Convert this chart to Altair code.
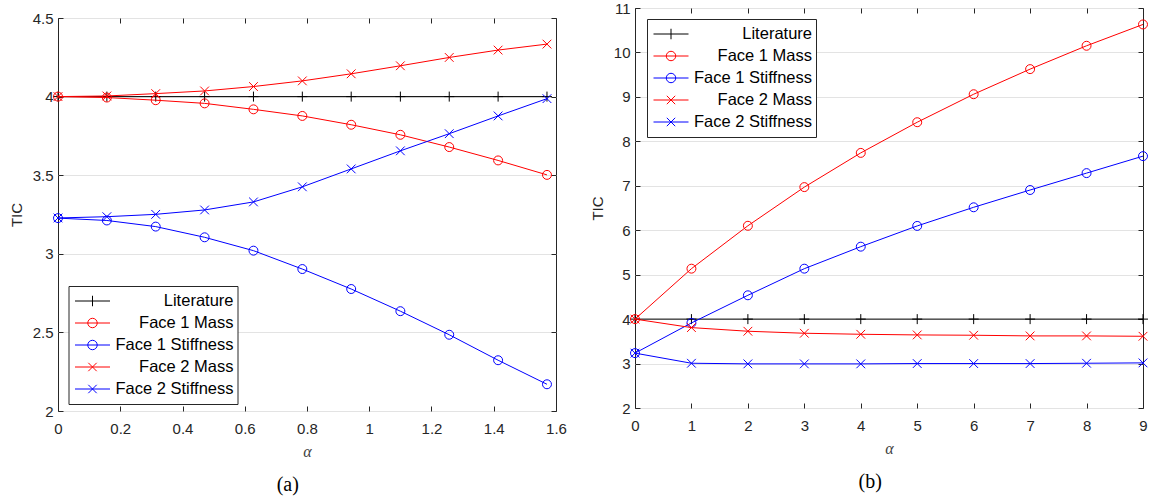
import altair as alt
import pandas as pd

SERIES = ["Literature", "Face 1 Mass", "Face 1 Stiffness", "Face 2 Mass", "Face 2 Stiffness"]
COLORS = ["#000000", "#ff0000", "#0000ff", "#ff0000", "#0000ff"]
MARKERS = ["plus", "circle", "circle", "cross", "cross"]

# ---- panel (a) ----
a_x = [0.0, 0.157, 0.314, 0.471, 0.628, 0.785, 0.942, 1.100, 1.257, 1.414, 1.571]
a_literature = [4.0, 4.0, 4.0, 4.0, 4.0, 4.0, 4.0, 4.0, 4.0, 4.0, 4.0]
a_face1_mass = [4.0, 3.994, 3.977, 3.957, 3.919, 3.877, 3.821, 3.757, 3.679, 3.594, 3.502]
a_face1_stiff = [3.227, 3.212, 3.173, 3.105, 3.020, 2.903, 2.776, 2.635, 2.485, 2.323, 2.170]
a_face2_mass = [4.0, 4.004, 4.019, 4.036, 4.064, 4.100, 4.145, 4.196, 4.249, 4.296, 4.334]
a_face2_stiff = [3.228, 3.236, 3.251, 3.279, 3.330, 3.426, 3.540, 3.655, 3.764, 3.877, 3.987]
a_xticks = [0, 0.2, 0.4, 0.6, 0.8, 1.0, 1.2, 1.4, 1.6]
a_yticks = [2, 2.5, 3, 3.5, 4, 4.5]

# ---- panel (b) ----
b_x = [0, 1, 2, 3, 4, 5, 6, 7, 8, 9]
b_literature = [4.0, 4.0, 4.0, 4.0, 4.0, 4.0, 4.0, 4.0, 4.0, 4.0]
b_face1_mass = [4.0, 5.135, 6.10, 6.97, 7.74, 8.43, 9.06, 9.625, 10.15, 10.63]
b_face1_stiff = [3.235, 3.914, 4.536, 5.135, 5.63, 6.097, 6.516, 6.905, 7.285, 7.667]
b_face2_mass = [4.0, 3.809, 3.727, 3.682, 3.659, 3.644, 3.637, 3.622, 3.622, 3.614]
b_face2_stiff = [3.235, 3.007, 2.993, 2.993, 2.993, 3.0, 3.0, 3.0, 3.007, 3.015]
b_xticks = [0, 1, 2, 3, 4, 5, 6, 7, 8, 9]
b_yticks = [2, 3, 4, 5, 6, 7, 8, 9, 10, 11]


def long_table(xs, cols):
    rows = []
    for name, ys in zip(SERIES, cols):
        for x, y in zip(xs, ys):
            rows.append({"x": x, "y": y, "series": name})
    return pd.DataFrame(rows)


df_a = long_table(a_x, [a_literature, a_face1_mass, a_face1_stiff, a_face2_mass, a_face2_stiff])
df_b = long_table(b_x, [b_literature, b_face1_mass, b_face1_stiff, b_face2_mass, b_face2_stiff])

SHAPE_PATH = {"plus": "M-1,0H1M0,-1V1", "circle": "circle", "cross": "M-1,-1L1,1M-1,1L1,-1"}
SHAPE_SIZE = {"plus": 100, "circle": 80, "cross": 76}
LEGEND_PATH = {
    "plus": "M-1,0H1M0,-0.3V0.3",
    "circle": "M-1,0H1M0.27,0A0.27,0.27,0,1,1,-0.27,0A0.27,0.27,0,1,1,0.27,0",
    "cross": "M-1,0H1M-0.24,-0.24L0.24,0.24M-0.24,0.24L0.24,-0.24",
}

FRAME = "#262626"
SANS = "Liberation Sans"
SERIF = "Liberation Serif"


def panel(df, xdom, ydom, xticks, yticks, legx, legy, w, h, caption, xfmt):
    xs = alt.Scale(domain=xdom, nice=False, zero=False)
    ys = alt.Scale(domain=ydom, nice=False, zero=False)
    base = alt.Chart(df)
    layers = []
    for i, (name, color, mk) in enumerate(zip(SERIES, COLORS, MARKERS)):
        sub = base.transform_filter(alt.datum.series == name)
        if i == 0:
            xa = alt.Axis(values=xticks, orient="bottom", offset=-5, tickSize=5, grid=False,
                          format=xfmt, labelPadding=10, title="α", titleFont=SERIF,
                          titleFontStyle="italic", titleFontSize=16, titleColor="#404040",
                          titlePadding=7)
            ya = alt.Axis(values=yticks, orient="left", offset=-5, tickSize=5, grid=True,
                          format="~g", labelPadding=5, title="TIC", titleFont=SANS,
                          titleFontSize=15, titleColor=FRAME, titlePadding=8)
        else:
            xa = None
            ya = None
        layers.append(sub.mark_line(color=color, strokeWidth=1).encode(
            x=alt.X("x:Q", scale=xs, axis=xa), y=alt.Y("y:Q", scale=ys, axis=ya)))
        layers.append(sub.mark_point(shape=SHAPE_PATH[mk], size=SHAPE_SIZE[mk], color=color,
                                     filled=False, strokeWidth=1, opacity=1).encode(
            x=alt.X("x:Q", scale=xs, axis=None), y=alt.Y("y:Q", scale=ys, axis=None)))

    leg = alt.Legend(orient="none", legendX=legx, legendY=legy, title=None, padding=4,
                     strokeColor=FRAME, fillColor="white", symbolSize=1225,
                     symbolStrokeWidth=1, symbolOpacity=1, symbolOffset=2, labelOffset=123,
                     labelAlign="right",
                     labelFont=SANS, labelFontSize=16.5, labelColor="#000000",
                     clipHeight=22, rowPadding=0, labelLimit=300)
    legend_layer = base.transform_filter("false").mark_point(
        filled=False, strokeWidth=1, opacity=1).encode(
        x=alt.X("x:Q", scale=xs, axis=alt.Axis(values=xticks, orient="top", offset=-5,
                                                 tickSize=5, labels=False, grid=False, title=None)),
        y=alt.Y("y:Q", scale=ys, axis=alt.Axis(values=yticks, orient="right", offset=-5,
                                                 tickSize=5, labels=False, grid=False, title=None)),
        color=alt.Color("series:N", scale=alt.Scale(domain=SERIES, range=COLORS), legend=leg),
        shape=alt.Shape("series:N", scale=alt.Scale(domain=SERIES,
                                                    range=[LEGEND_PATH[m] for m in MARKERS]),
                        legend=leg),
    )
    layers.append(legend_layer)
    return alt.layer(*layers).resolve_axis(x="independent", y="independent").properties(
        width=w, height=h,
        title=alt.TitleParams(caption, orient="bottom", font=SERIF, fontSize=20,
                              fontWeight="normal", color="#000000", offset=16,
                              anchor="middle", frame="bounds"),
    )


pa = panel(df_a, [0, 1.6], [2, 4.5], a_xticks, a_yticks, 10.5, 268, 498, 393, "(a)", "~g")
pb = panel(df_b, [0, 9], [2, 11], b_xticks, b_yticks, 12, 11, 508, 400, "(b)", "d")

# invisible spacer that lowers panel (a) relative to panel (b)
spacer = alt.Chart(pd.DataFrame({"s": [0]})).mark_text(
    text="", opacity=0, fontSize=1, baseline="bottom"
).encode(x=alt.value(0), y=alt.value(0)).properties(
    width=498, height=1, view=alt.ViewBackground(stroke="transparent")
)

left = alt.vconcat(spacer, pa, spacing=0).resolve_scale(
    color="independent", shape="independent"
).resolve_legend(color="independent", shape="independent")

chart = alt.hconcat(left, pb, spacing=22).resolve_scale(
    color="independent", shape="independent"
).resolve_legend(color="independent", shape="independent").properties(
    background="white",
    padding={"left": 8, "top": 0, "right": 0, "bottom": 0},
).configure_view(stroke=FRAME, strokeWidth=1).configure_axis(
    labelFont=SANS, labelFontSize=15, labelColor=FRAME, tickColor=FRAME, tickWidth=1,
    domain=False, labelFlush=False, labelOverlap=False, titleFontWeight="normal",
    gridColor="#e3e3e3", gridWidth=1,
)

chart.save("out.html", embed_options={"renderer": "svg", "actions": False})
